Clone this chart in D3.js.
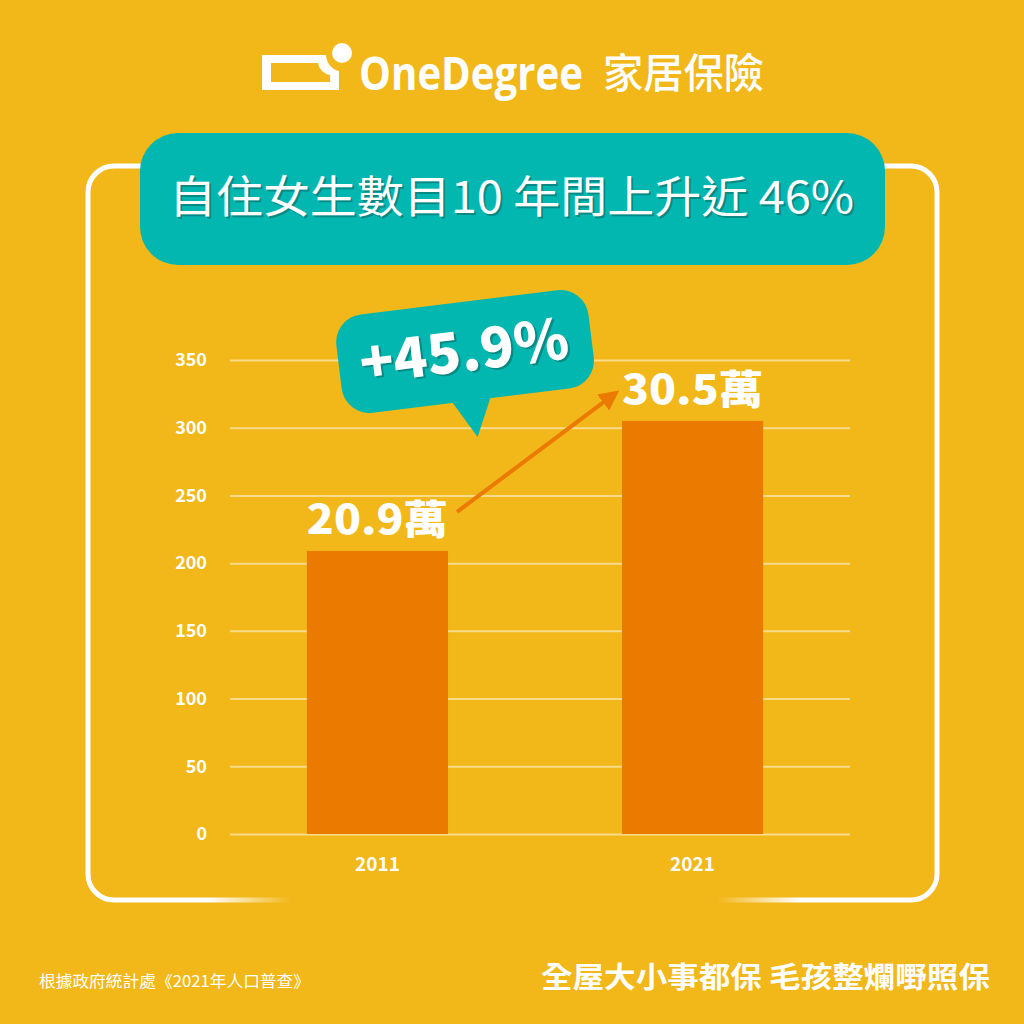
<!DOCTYPE html>
<html>
<head>
<meta charset="utf-8">
<script src="https://cdn.jsdelivr.net/npm/d3@7"></script>
<style>
  html, body { margin: 0; padding: 0; background: #F2B718; }
  svg { display: block; }
</style>
</head>
<body>
<div class="chart"></div>
<script>
// data (女性獨居人數, 千人)
var years = ["2011", "2021"];
var womenLiving = [209, 305];
var valueLabels = ["20.9萬", "30.5萬"];
var yTicks = [0, 50, 100, 150, 200, 250, 300, 350];
var titleText = "自住女生數目10 年間上升近 46%";
var changeText = "+45.9%";
var sourceText = "根據政府統計處《2021年人口普查》";
var sloganText = "全屋大小事都保 毛孩整爛嘢照保";

var W = 1024, H = 1024;
var orange = "#EA7A00", teal = "#02B7B0", bg = "#F2B718";
var cjk = "'Noto Sans CJK TC', 'Noto Sans', sans-serif";

var svg = d3.select(".chart").append("svg")
    .attr("width", W)
    .attr("height", H);

svg.append("rect").attr("width", W).attr("height", H).attr("fill", bg);

var defs = svg.append("defs");
var grad = defs.append("linearGradient")
    .attr("id", "frameGrad")
    .attr("gradientUnits", "userSpaceOnUse")
    .attr("x1", 88).attr("x2", 937).attr("y1", 0).attr("y2", 0);
[[0, 1], [0.14, 1], [0.24, 0], [0.74, 0], [0.84, 1], [1, 1]].forEach(function(s) {
  grad.append("stop").attr("offset", s[0]).attr("stop-color", "#fff").attr("stop-opacity", s[1]);
});

// frame
svg.append("rect")
    .attr("x", 88).attr("y", 166)
    .attr("width", 849).attr("height", 734)
    .attr("rx", 26)
    .attr("fill", "none")
    .attr("stroke", "url(#frameGrad)")
    .attr("stroke-width", 5);

// logo
var logo = svg.append("g");
logo.append("path")
    .attr("d", "M262,55 H326 A17,17 0 0 0 339,71 V90 H262 Z M271,63 H318 A14,14 0 0 0 330,75 V82 H271 Z")
    .attr("fill", "#fff")
    .attr("fill-rule", "evenodd");
logo.append("circle").attr("cx", 342).attr("cy", 53).attr("r", 10).attr("fill", "#fff");
logo.append("text")
    .attr("x", 359).attr("y", 90)
    .attr("font-family", "'Open Sans', 'Noto Sans', sans-serif")
    .attr("font-weight", 700)
    .attr("font-size", 46)
    .attr("textLength", 224)
    .attr("lengthAdjust", "spacingAndGlyphs")
    .attr("fill", "#fff")
    .text("OneDegree");
logo.append("text")
    .attr("x", 603).attr("y", 88)
    .attr("font-family", cjk)
    .attr("font-weight", 500)
    .attr("font-size", 41)
    .attr("textLength", 161)
    .attr("lengthAdjust", "spacingAndGlyphs")
    .attr("fill", "#fff")
    .text("家居保險");

// title box
svg.append("rect")
    .attr("x", 140).attr("y", 133)
    .attr("width", 745).attr("height", 132)
    .attr("rx", 38)
    .attr("fill", teal);
[["#078a84", 2], ["#fff", 0]].forEach(function(t) {
  svg.append("text")
      .attr("x", 169 + t[1]).attr("y", 213 + t[1])
      .attr("font-family", cjk)
      .attr("font-weight", 400)
      .attr("font-size", 44)
      .attr("textLength", 685)
      .attr("lengthAdjust", "spacingAndGlyphs")
      .attr("fill", t[0])
      .text(titleText);
});

// scales
var y = d3.scaleLinear().domain([0, 350]).range([834, 360]);
var x = d3.scaleBand().domain(years).range([230, 840])
    .paddingInner(0.552).paddingOuter(0.244);

// grid + y labels
var yAxis = svg.append("g")
    .attr("transform", "translate(230,0)")
    .call(d3.axisLeft(y).tickValues(yTicks).tickSize(-620).tickPadding(23));
yAxis.select(".domain").remove();
yAxis.selectAll(".tick line")
    .attr("stroke", "#fff").attr("stroke-opacity", 0.5).attr("stroke-width", 2);
yAxis.selectAll(".tick text")
    .attr("fill", "#fff")
    .attr("font-family", cjk)
    .attr("font-weight", 700)
    .attr("font-size", 18);

// bars
svg.selectAll(".bar")
    .data(womenLiving)
  .enter().append("rect")
    .attr("class", "bar")
    .attr("x", function(d, i) { return x(years[i]); })
    .attr("y", function(d) { return y(d); })
    .attr("width", x.bandwidth())
    .attr("height", function(d) { return y(0) - y(d); })
    .attr("fill", orange);

// x labels
var xAxis = svg.append("g")
    .attr("transform", "translate(0,834)")
    .call(d3.axisBottom(x).tickSize(0).tickPadding(24));
xAxis.select(".domain").remove();
xAxis.selectAll(".tick text")
    .attr("fill", "#fff")
    .attr("font-family", cjk)
    .attr("font-weight", 700)
    .attr("font-size", 19);

// value labels
svg.selectAll(".vlabel")
    .data(womenLiving)
  .enter().append("text")
    .attr("class", "vlabel")
    .attr("x", function(d, i) { return x(years[i]); })
    .attr("y", function(d) { return y(d) - 17; })
    .attr("font-family", cjk)
    .attr("font-weight", 900)
    .attr("font-size", 40)
    .attr("textLength", x.bandwidth())
    .attr("lengthAdjust", "spacingAndGlyphs")
    .attr("fill", "#fff")
    .text(function(d, i) { return valueLabels[i]; });

// arrow between the two labels
defs.append("marker")
    .attr("id", "arrowHead")
    .attr("viewBox", "0 0 10 10")
    .attr("refX", 8).attr("refY", 5)
    .attr("markerWidth", 5).attr("markerHeight", 5)
    .attr("orient", "auto")
  .append("path")
    .attr("d", "M0,0 L10,5 L0,10 Z")
    .attr("fill", orange);
svg.append("line")
    .attr("x1", x(years[0]) + x.bandwidth() + 9)
    .attr("y1", y(womenLiving[0]) - 39)
    .attr("x2", x(years[1]) - 6)
    .attr("y2", y(womenLiving[1]) - 28)
    .attr("stroke", orange)
    .attr("stroke-width", 4)
    .attr("marker-end", "url(#arrowHead)");

// speech bubble
var bubble = svg.append("g")
    .attr("transform", "translate(465,351) rotate(-7)");
bubble.append("rect")
    .attr("x", -127).attr("y", -49)
    .attr("width", 254).attr("height", 99)
    .attr("rx", 28)
    .attr("fill", teal);
bubble.append("path")
    .attr("d", "M-24,40 L24,40 L2,87 Z")
    .attr("fill", teal);
[["#078a84", 2], ["#fff", 0]].forEach(function(t) {
  bubble.append("text")
      .attr("x", -106 + t[1]).attr("y", 20 + t[1])
      .attr("font-family", cjk)
      .attr("font-weight", 900)
      .attr("font-size", 56)
      .attr("textLength", 210)
      .attr("lengthAdjust", "spacingAndGlyphs")
      .attr("fill", t[0])
      .text(changeText);
});

// footer
svg.append("text")
    .attr("x", 39).attr("y", 987)
    .attr("font-family", cjk)
    .attr("font-weight", 400)
    .attr("font-size", 16)
    .attr("textLength", 271)
    .attr("lengthAdjust", "spacingAndGlyphs")
    .attr("fill", "#fff")
    .text(sourceText);
svg.append("text")
    .attr("x", 541).attr("y", 988)
    .attr("font-family", cjk)
    .attr("font-weight", 700)
    .attr("font-size", 29)
    .attr("textLength", 449)
    .attr("lengthAdjust", "spacingAndGlyphs")
    .attr("fill", "#fff")
    .text(sloganText);
</script>
</body>
</html>
